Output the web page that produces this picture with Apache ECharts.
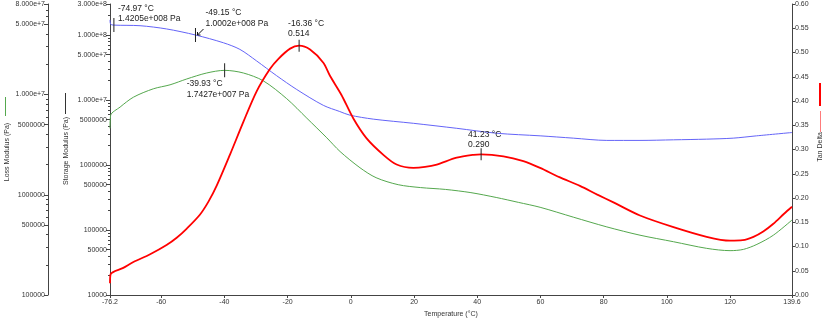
<!DOCTYPE html>
<html>
<head>
<meta charset="utf-8">
<script src="https://cdn.jsdelivr.net/npm/echarts@6/dist/echarts.min.js"></script>
<style>html,body{margin:0;padding:0;background:#fff;}#c{width:830px;height:323px;}</style>
</head>
<body>
<div id="c"></div>
<script>
// ---- data (temperature °C, value) ----
const storageModulus = [
  [-76.2, 1.71e8], [-76.0, 1.47e8], [-74.97, 1.4205e8], [-66.7, 1.39e8], [-58.3, 1.24e8],
  [-49.15, 1.0002e8], [-40.3, 7.59e7], [-35.1, 6.01e7], [-29.8, 3.99e7], [-23.5, 2.37e7],
  [-17.1, 1.45e7], [-8.7, 8.28e6], [-3.5, 6.65e6], [-0.3, 5.85e6], [7.1, 5.08e6],
  [19.8, 4.38e6], [33.5, 3.67e6], [46.2, 3.08e6], [59.9, 2.81e6], [70.4, 2.59e6],
  [81.0, 2.39e6], [91.5, 2.39e6], [102.1, 2.44e6], [112.6, 2.50e6], [121.0, 2.59e6],
  [128.4, 2.81e6], [139.6, 3.16e6]
];
const lossModulus = [
  [-76.2, 4.6e6], [-76.0, 6.2e6], [-73.0, 7.5e6], [-68.8, 9.4e6], [-62.5, 1.14e7],
  [-57.2, 1.25e7], [-51.9, 1.43e7], [-45.6, 1.64e7], [-39.93, 1.7427e7], [-34.0, 1.64e7],
  [-27.7, 1.37e7], [-20.3, 9.1e6], [-13.9, 5.8e6], [-7.6, 3.7e6], [-3.4, 2.7e6],
  [2.9, 1.86e6], [8, 1.48e6], [15, 1.26e6], [22, 1.18e6], [30, 1.13e6], [38, 1.05e6],
  [46, 9.4e5], [53, 8.4e5], [59.9, 7.5e5], [70.4, 5.98e5], [81.0, 4.78e5], [91.5, 3.95e5],
  [102.1, 3.40e5], [112.6, 2.92e5], [120, 2.77e5], [124.2, 2.85e5], [128.5, 3.2e5],
  [133.7, 3.95e5], [139.6, 5.6e5]
];
const tanDelta = [
  [-76.2, 0.024], [-76.0, 0.043], [-72, 0.056], [-68.8, 0.068], [-63.5, 0.084], [-58.3, 0.103],
  [-55.1, 0.118], [-51.9, 0.137], [-47.7, 0.166], [-45, 0.193], [-42.4, 0.226], [-38.2, 0.290],
  [-34.0, 0.357], [-29.8, 0.420], [-25.6, 0.466], [-22.9, 0.487], [-19.2, 0.508], [-16.36, 0.514],
  [-12.9, 0.506], [-8.7, 0.479], [-6.6, 0.452], [-3.0, 0.413], [0.8, 0.364], [5.0, 0.323],
  [10.3, 0.289], [14.5, 0.269], [19.8, 0.262], [23.5, 0.264], [27.2, 0.269], [33.5, 0.283],
  [38.8, 0.289], [41.23, 0.290], [48.3, 0.286], [54.6, 0.276], [59.9, 0.262], [66, 0.243],
  [72.5, 0.225], [78, 0.207], [83.1, 0.191], [91.5, 0.164], [102.1, 0.140], [112.6, 0.120],
  [120.0, 0.112], [124, 0.113], [127.4, 0.120], [130.5, 0.131], [133.7, 0.147], [137, 0.167],
  [139.6, 0.182]
];

// ---- axis ticks / labels ----
const xTicks = [-76.2, -60, -40, -20, 0, 20, 40, 60, 80, 100, 120, 139.6];
const storageTickValues = [1e4, 5e4, 1e5, 5e5, 1e6, 5e6, 1e7, 5e7, 1e8, 3e8];
const storageTickLabels = ['10000', '50000', '100000', '500000', '1000000', '5000000', '1.000e+7', '5.000e+7', '1.000e+8', '3.000e+8'];
const storageMinorTicks = [2e4,3e4,4e4,6e4,7e4,8e4,9e4, 2e5,3e5,4e5,6e5,7e5,8e5,9e5, 2e6,3e6,4e6,6e6,7e6,8e6,9e6, 2e7,3e7,4e7,6e7,7e7,8e7,9e7, 2e8];
const lossTickValues = [1e5, 5e5, 1e6, 5e6, 1e7, 5e7, 8e7];
const lossTickLabels = ['100000', '500000', '1000000', '5000000', '1.000e+7', '5.000e+7', '8.000e+7'];
const lossMinorTicks = [2e5,3e5,4e5,6e5,7e5,8e5,9e5, 2e6,3e6,4e6,6e6,7e6,8e6,9e6, 2e7,3e7,4e7,6e7,7e7];
const tanTicks = [0, 0.05, 0.1, 0.15, 0.2, 0.25, 0.3, 0.35, 0.4, 0.45, 0.5, 0.55, 0.6];

// annotations: [temperature, value, text]
const storageNotes = [[-74.97, 1.4205e8, '-74.97 °C\n1.4205e+008 Pa'], [-49.15, 1.0002e8, '-49.15 °C\n1.0002e+008 Pa']];
const lossNotes = [[-39.93, 1.7427e7, '-39.93 °C\n1.7427e+007 Pa']];
const tanNotes = [[-16.36, 0.514, '-16.36 °C\n0.514'], [41.23, 0.290, '41.23 °C\n0.290']];

const L = Math.log10;
const FONT = 'Liberation Sans, Arial, sans-serif';
const AX = '#444';
const TXT = '#333';

function logLabel(values, labels) {
  return function (v) {
    for (let i = 0; i < values.length; i++) if (Math.abs(L(values[i]) - v) < 1e-6) return labels[i];
    return '';
  };
}

function logAxis(min, max, offset, values, labels, minor) {
  return [{
    type: 'value', position: 'left', offset: offset, min: L(min), max: L(max),
    splitLine: { show: false },
    axisLine: { show: true, onZero: false, lineStyle: { color: AX, width: 1 } },
    axisTick: { show: true, length: 4, customValues: values.map(L), lineStyle: { color: AX } },
    axisLabel: { show: true, customValues: values.map(L), formatter: logLabel(values, labels), fontSize: 7, fontFamily: FONT, color: TXT, margin: 3 }
  }, {
    type: 'value', position: 'left', offset: offset, min: L(min), max: L(max),
    splitLine: { show: false },
    axisLine: { show: false, onZero: false },
    axisTick: { show: true, length: 2, customValues: minor.map(L), lineStyle: { color: AX } },
    axisLabel: { show: false }
  }];
}

const noteLabel = (dx, dy) => ({ show: true, position: 'inside', align: 'left', verticalAlign: 'middle', offset: [dx, dy], fontSize: 8.5, lineHeight: 10.5, fontFamily: FONT, color: '#222' });

const chart = echarts.init(document.getElementById('c'), null, { renderer: 'canvas' });
chart.setOption({
  animation: false,
  backgroundColor: '#ffffff',
  grid: { left: 110, right: 38, top: 4, bottom: 24, containLabel: false },
  xAxis: {
    type: 'value', min: -76.2, max: 139.6,
    splitLine: { show: false },
    axisLine: { show: true, onZero: false, lineStyle: { color: AX } },
    axisTick: { show: true, length: 3, customValues: xTicks, lineStyle: { color: AX } },
    axisLabel: { customValues: xTicks, fontSize: 7, fontFamily: FONT, color: TXT, margin: 4 },
    name: 'Temperature (°C)', nameLocation: 'middle', nameGap: 16,
    nameTextStyle: { fontSize: 7, fontFamily: FONT, color: TXT }
  },
  yAxis: [
    ...logAxis(1e4, 3e8, 0, storageTickValues, storageTickLabels, storageMinorTicks),
    ...logAxis(1e5, 8e7, 62, lossTickValues, lossTickLabels, lossMinorTicks),
    {
      type: 'value', position: 'right', offset: 0, min: 0, max: 0.6,
      splitLine: { show: false },
      axisLine: { show: true, onZero: false, lineStyle: { color: AX } },
      axisTick: { show: true, length: 3, customValues: tanTicks, lineStyle: { color: AX } },
      axisLabel: { customValues: tanTicks, formatter: v => v.toFixed(2), fontSize: 7, fontFamily: FONT, color: TXT, margin: 3 }
    }
  ],
  series: [
    {
      name: 'Storage Modulus', type: 'line', yAxisIndex: 0, showSymbol: false, smooth: 0.3,
      lineStyle: { color: '#6464f8', width: 1 }, itemStyle: { color: '#6464f8' },
      data: storageModulus.map(p => [p[0], L(p[1])]),
      markPoint: {
        symbol: 'rect', symbolSize: [1, 14], itemStyle: { color: '#222' },
        data: [
          { coord: [storageNotes[0][0], L(storageNotes[0][1])], label: Object.assign(noteLabel(4, -11.5), { formatter: storageNotes[0][2] }) },
          { coord: [storageNotes[1][0], L(storageNotes[1][1])], label: Object.assign(noteLabel(10, -17), { formatter: storageNotes[1][2] }) },
          { coord: [storageNotes[1][0], L(storageNotes[1][1])], symbol: 'path://M0,10L10,0M0,10L0,5M0,10L5,10', symbolSize: [6, 6], symbolOffset: [5, -3],
            itemStyle: { color: 'none', borderColor: '#111', borderWidth: 1 }, label: { show: false } }
        ]
      }
    },
    {
      name: 'Loss Modulus', type: 'line', yAxisIndex: 2, showSymbol: false, smooth: 0.3,
      lineStyle: { color: '#55a84e', width: 1 }, itemStyle: { color: '#55a84e' },
      data: lossModulus.map(p => [p[0], L(p[1])]),
      markPoint: {
        symbol: 'rect', symbolSize: [1, 14], itemStyle: { color: '#222' },
        data: lossNotes.map(n => ({ coord: [n[0], L(n[1])], label: Object.assign(noteLabel(-38, 19), { formatter: n[2] }) }))
      }
    },
    {
      name: 'Tan Delta', type: 'line', yAxisIndex: 4, showSymbol: false, smooth: 0.3,
      lineStyle: { color: '#ff0000', width: 1.8 }, itemStyle: { color: '#ff0000' },
      data: tanDelta,
      markPoint: {
        symbol: 'rect', symbolSize: [1, 12], itemStyle: { color: '#222' },
        data: [
          { coord: [tanNotes[0][0], tanNotes[0][1]], label: Object.assign(noteLabel(-11, -17), { formatter: tanNotes[0][2] }) },
          { coord: [tanNotes[1][0], tanNotes[1][1]], label: Object.assign(noteLabel(-13, -14.5), { formatter: tanNotes[1][2] }) }
        ]
      }
    }
  ],
  graphic: [
    { type: 'line', shape: { x1: 5.5, y1: 97, x2: 5.5, y2: 116 }, style: { stroke: '#55a84e', lineWidth: 1 } },
    { type: 'text', x: 7, y: 152, rotation: Math.PI / 2, style: { text: 'Loss Modulus (Pa)', font: '7px ' + FONT, fill: TXT, align: 'center', verticalAlign: 'middle' } },
    { type: 'line', shape: { x1: 65.5, y1: 93, x2: 65.5, y2: 114 }, style: { stroke: '#333', lineWidth: 1 } },
    { type: 'text', x: 66, y: 151, rotation: Math.PI / 2, style: { text: 'Storage Modulus (Pa)', font: '7px ' + FONT, fill: TXT, align: 'center', verticalAlign: 'middle' } },
    { type: 'line', shape: { x1: 820, y1: 83, x2: 820, y2: 106 }, style: { stroke: '#ff0000', lineWidth: 2 } },
    { type: 'line', shape: { x1: 820.5, y1: 111, x2: 820.5, y2: 132 }, style: { stroke: '#ff7b7b', lineWidth: 1 } },
    { type: 'text', x: 820, y: 147, rotation: Math.PI / 2, style: { text: 'Tan Delta', font: '7px ' + FONT, fill: TXT, align: 'center', verticalAlign: 'middle' } }
  ]
});
</script>
</body>
</html>
